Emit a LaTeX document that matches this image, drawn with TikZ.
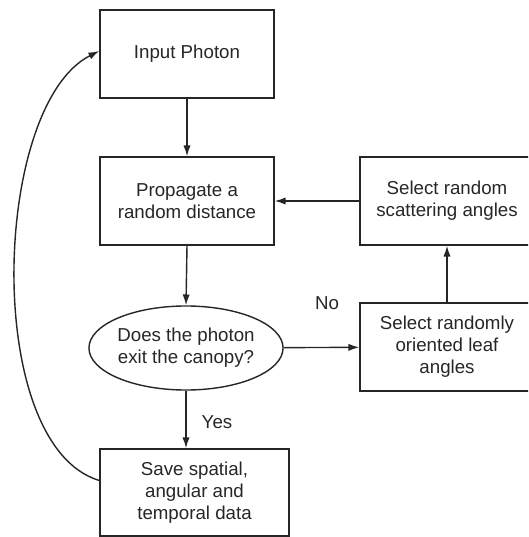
\documentclass[tikz,border=0pt]{standalone}
\usepackage{fontspec}
\setmainfont{Liberation Sans}
\usepackage{tikz}
\usetikzlibrary{arrows.meta,shapes.geometric,positioning}
\tikzset{
    process/.style={
    rectangle,draw=black!85,line width=1pt,align=center,inner sep=0pt,
    minimum width=4.35cm,minimum height=2.2cm,font=\fontsize{13.3}{15.6}\selectfont,
    text=black!85
    },
    widebox/.style={
    process,minimum width=4.725cm,minimum height=2.175cm
    },
    decision/.style={
    ellipse,draw=black!85,line width=1pt,align=center,inner sep=0pt,
    minimum width=4.3cm,minimum height=2.1cm,font=\fontsize{13.3}{15.6}\selectfont,
    text=black!85
    },
    flow/.style={
    line width=1pt,black!85,-{Latex[length=0.27cm,width=0.18cm]}
    },
    answer/.style={
    font=\fontsize{13.3}{15.6}\selectfont,text=black!85
    },
}
\begin{document}
\begin{tikzpicture}[x=0.025cm, y=-0.025cm]
   \clip (0,0) rectangle (528,537);

   %left column
   \node[process] (input) at (187,54) {Input Photon};
   \node[process] (prop) at (187,201) {Propagate a\\random distance};
   \node[decision] (exit) at (186,348) {Does the photon\\exit the canopy?};
   \node[widebox] (save) at (194.5,492.5) {Save spatial,\\angular and\\temporal data};

   %right column
   \node[process] (scatter) at (447,201) {Select random\\scattering angles};
   \node[process] (orient) at (447,347) {Select randomly\\oriented leaf\\angles};

   %labels
   \node[answer] (no) at (327,303) {No};
   \node[answer] (yes) at (217,422) {Yes};

  \path[flow]
    (input) edge (prop)
    (prop.south) edge (exit.north)
    (exit.south) edge (exit.south |- save.north)
    (exit) edge (orient)
    (orient) edge (scatter)
    (scatter) edge (prop);

  %loop back to the start
  \draw[flow] ([yshift=0.3cm]save.west) .. controls (-18,445) and (-8,105) .. ([yshift=0.075cm]input.west);
\end{tikzpicture}
\end{document}
